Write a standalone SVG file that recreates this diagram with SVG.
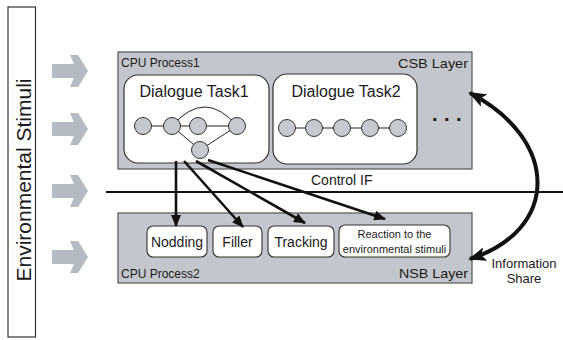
<svg xmlns="http://www.w3.org/2000/svg" width="563" height="340" viewBox="0 0 563 340">
<style>
text{font-family:"Liberation Sans",Arial,sans-serif;fill:#1a1a1a}
.layer{fill:#c3c6cc;stroke:#555;stroke-width:1.2}
.task{fill:#fff;stroke:#333;stroke-width:1.2}
.mod{fill:#fff;stroke:#333;stroke-width:1.1}
.nd{fill:#c6c9ce;stroke:#333;stroke-width:1}
.gl{stroke:#222;stroke-width:1;fill:none}
.stim{fill:#b5bbc3}
.conn{stroke:#111;stroke-width:2.6;fill:none}
</style>
<defs>
<marker id="ah" viewBox="0 0 12 10" refX="11" refY="5" markerWidth="12" markerHeight="10" markerUnits="userSpaceOnUse" orient="auto"><path d="M0,0 L12,5 L0,10 z" fill="#111"/></marker>
<marker id="ah2" viewBox="0 0 18 14" refX="16" refY="7" markerWidth="18" markerHeight="14" markerUnits="userSpaceOnUse" orient="auto-start-reverse"><path d="M0,0 L18,7 L0,14 L4,7 z" fill="#111"/></marker>
<polygon id="sa" points="52,-7 74,-7 70,-16 78,-16 88,0 78,16 70,16 74,7 52,7"/>
</defs>

<g id="stimuli">
<rect x="8" y="7" width="27.5" height="330" fill="#fff" stroke="#333" stroke-width="1.2"/>
<text transform="translate(31,180) rotate(-90)" text-anchor="middle" font-size="21">Environmental Stimuli</text>
</g>

<g id="stim-arrows" class="stim">
<use href="#sa" y="71"/>
<use href="#sa" y="129"/>
<use href="#sa" y="191"/>
<use href="#sa" y="257"/>
</g>

<g id="csb">
<rect class="layer" x="118" y="52" width="354" height="117"/>
<text x="121" y="67" font-size="12">CPU Process1</text>
<text x="468" y="68" font-size="13" text-anchor="end" textLength="70" lengthAdjust="spacingAndGlyphs">CSB Layer</text>
<text x="432 444 456" y="121" font-size="20" font-weight="bold">...</text>
</g>

<g id="task1">
<rect class="task" x="124" y="75" width="145" height="88" rx="14"/>
<text x="194" y="97" font-size="16" text-anchor="middle">Dialogue Task1</text>
<path class="gl" d="M143,126 H237 M172,126 L200,150 M237,126 L200,150 M172,126 Q205,88 237,126"/>
<circle class="nd" cx="143" cy="126" r="8.5"/>
<circle class="nd" cx="172" cy="126" r="8.5"/>
<circle class="nd" cx="198" cy="126" r="8.5"/>
<circle class="nd" cx="237" cy="126" r="8.5"/>
<circle class="nd" cx="200" cy="150" r="8.5"/>
</g>

<g id="task2">
<rect class="task" x="273" y="74" width="144" height="90" rx="14"/>
<text x="346" y="97" font-size="16" text-anchor="middle">Dialogue Task2</text>
<path class="gl" d="M287,128 H398"/>
<circle class="nd" cx="287" cy="128" r="8.5"/>
<circle class="nd" cx="314" cy="128" r="8.5"/>
<circle class="nd" cx="342" cy="128" r="8.5"/>
<circle class="nd" cx="370" cy="128" r="8.5"/>
<circle class="nd" cx="398" cy="128" r="8.5"/>
</g>

<g id="control-if">
<line x1="106" y1="192" x2="563" y2="192" stroke="#111" stroke-width="2"/>
<text x="311" y="185" font-size="14">Control IF</text>
</g>

<g id="nsb">
<rect class="layer" x="118" y="213" width="354" height="70"/>
<text x="121" y="278" font-size="12">CPU Process2</text>
<text x="468" y="278" font-size="13" text-anchor="end" textLength="69" lengthAdjust="spacingAndGlyphs">NSB Layer</text>
</g>

<g id="nodding">
<rect class="mod" x="147" y="226" width="60" height="31" rx="6"/>
<text x="177" y="247" font-size="14" text-anchor="middle">Nodding</text>
</g>
<g id="filler">
<rect class="mod" x="213" y="226" width="49" height="31" rx="6"/>
<text x="237.5" y="247" font-size="14" text-anchor="middle">Filler</text>
</g>
<g id="tracking">
<rect class="mod" x="268" y="226" width="66" height="31" rx="6"/>
<text x="301" y="247" font-size="14" text-anchor="middle">Tracking</text>
</g>
<g id="reaction">
<rect class="mod" x="339" y="225" width="111" height="32" rx="6"/>
<text x="394.5" y="238" font-size="11" text-anchor="middle">Reaction to the</text>
<text x="394.5" y="253" font-size="11" text-anchor="middle">environmental stimuli</text>
</g>

<g id="info-share">
<text x="524" y="268" font-size="13" text-anchor="middle">Information</text>
<text x="524" y="283" font-size="13" text-anchor="middle">Share</text>
</g>

<g id="connectors">
<line class="conn" x1="176" y1="161" x2="176" y2="226" marker-end="url(#ah)"/>
<line class="conn" x1="184" y1="161" x2="243" y2="227" marker-end="url(#ah)"/>
<line class="conn" x1="196" y1="161" x2="305" y2="223" marker-end="url(#ah)"/>
<line class="conn" x1="208" y1="160" x2="385" y2="219" marker-end="url(#ah)"/>
<path d="M470,93 C560,140 560,230 470,259" stroke="#111" stroke-width="4" fill="none" marker-start="url(#ah2)" marker-end="url(#ah2)"/>
</g>
</svg>
